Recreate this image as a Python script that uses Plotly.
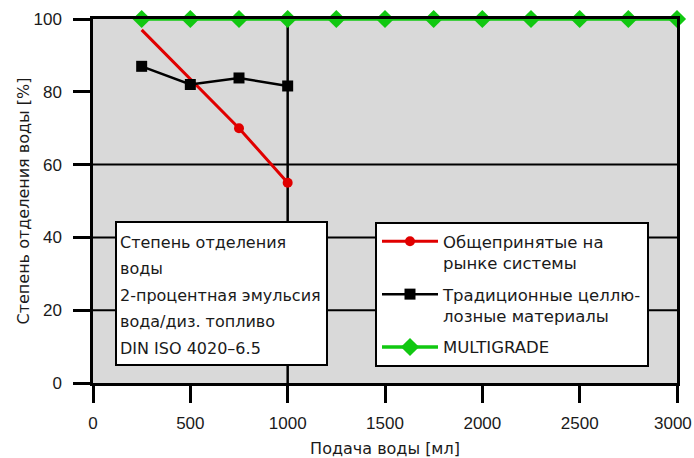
import plotly.graph_objects as go

# ---- data ----
x_common = [250, 500, 750, 1000]
y_conventional = [97, 83.5, 70, 55]
y_cellulose = [87, 82, 83.8, 81.6]
x_multigrade = [250, 500, 750, 1000, 1250, 1500, 1750, 2000, 2250, 2500, 2750, 3000]
y_multigrade = [100, 100, 100, 100, 100, 100, 100, 100, 100, 100, 100, 100]

name_conventional = "Общепринятые на<br>рынке системы"
name_cellulose = "Традиционные целлю-<br>лозные материалы"
name_multigrade = "MULTIGRADE"

x_ticks = [0, 500, 1000, 1500, 2000, 2500, 3000]
x_tick_labels = ["0", "500", "1000", "1500", "2000", "2500", "3000"]
y_ticks = [0, 20, 40, 60, 80, 100]
hgrid_values = [20, 40, 60]
vgrid_values = [1000]

box_lines = [
    "Степень отделения",
    "воды",
    "2-процентная эмульсия",
    "вода/диз. топливо",
    "DIN ISO 4020–6.5",
]

x_title = "Подача воды [мл]"
y_title = "Степень отделения воды [%]"

# ---- layout helpers ----
W, H = 694, 458
ML, MR, MT, MB = 93, 17, 19, 75
PW, PH = W - ML - MR, H - MT - MB


def px_x(px):
    return (px - ML) / PW


def px_y(py):
    return (H - MB - py) / PH


FONT = "DejaVu Sans, Liberation Sans, Arial, sans-serif"
TICKFONT = "Liberation Sans, Arial, Helvetica, sans-serif"
TXT = "#1a1a1a"
RED = "#e00000"
GREEN = "#11c811"

fig = go.Figure()

fig.add_trace(go.Scatter(
    x=x_common, y=y_conventional, name=name_conventional, mode="lines+markers",
    line=dict(color=RED, width=3),
    marker=dict(symbol="circle", size=10, color=RED),
    selectedpoints=[2, 3],
    selected=dict(marker=dict(opacity=1)),
    unselected=dict(marker=dict(opacity=0)),
    legendgroup="a",
))
fig.add_trace(go.Scatter(
    x=x_common, y=y_cellulose, name=name_cellulose, mode="lines+markers",
    line=dict(color="black", width=2.5),
    marker=dict(symbol="square", size=11, color="black"),
    legendgroup="b",
))
fig.add_trace(go.Scatter(
    x=x_multigrade, y=y_multigrade, name=name_multigrade, mode="lines+markers",
    line=dict(color=GREEN, width=3.5),
    marker=dict(symbol="diamond", size=14, color=GREEN),
    cliponaxis=False,
    legendgroup="c",
))

shapes = []
for v in hgrid_values:
    shapes.append(dict(type="line", xref="paper", yref="y", x0=0, x1=1, y0=v, y1=v,
                       line=dict(color="black", width=2), layer="below"))
for v in vgrid_values:
    shapes.append(dict(type="line", xref="x", yref="paper", x0=v, x1=v, y0=0, y1=1,
                       line=dict(color="black", width=2.5), layer="below"))
# info box
shapes.append(dict(type="rect", xref="paper", yref="paper",
                   x0=px_x(116), x1=px_x(327), y0=px_y(365), y1=px_y(222),
                   fillcolor="white", line=dict(color="black", width=2), layer="above"))

annotations = []
line_y_px = [242, 268.5, 295, 321.5, 348]
for txt, ypx in zip(box_lines, line_y_px):
    annotations.append(dict(text=txt, xref="paper", yref="paper", x=px_x(118), y=px_y(ypx),
                            xanchor="left", yanchor="middle", showarrow=False,
                            font=dict(family=FONT, size=16, color=TXT)))

# last x tick label: drawn as annotation nudged left so it stays inside the page
annotations.append(dict(text=x_tick_labels[-1], xref="x", yref="paper", x=x_ticks[-1], y=0,
                        xanchor="right", yanchor="middle", xshift=16, yshift=-40,
                        showarrow=False, borderpad=0,
                        font=dict(family=TICKFONT, size=17, color=TXT)))

fig.update_layout(
    width=W, height=H,
    margin=dict(l=ML, r=MR, t=MT, b=MB, autoexpand=False),
    paper_bgcolor="white", plot_bgcolor="#d9d9d9",
    font=dict(family=FONT, size=16, color=TXT),
    shapes=shapes, annotations=annotations,
    legend=dict(
        x=px_x(375), y=px_y(222), xanchor="left", yanchor="top",
        bgcolor="white", bordercolor="black", borderwidth=2,
        font=dict(family=FONT, size=16.5, color=TXT),
        itemwidth=56, valign="top", tracegroupgap=7, traceorder="grouped",
    ),
    showlegend=True,
)

fig.update_xaxes(
    range=[0, 3000], tickvals=x_ticks, ticktext=x_tick_labels[:-1] + [""],
    showgrid=False, zeroline=False, automargin=False,
    showline=True, linecolor="black", linewidth=2.5, mirror=True,
    ticks="outside", ticklen=17, tickwidth=3, tickcolor="black",
    tickfont=dict(family=TICKFONT, size=17, color=TXT), ticklabelstandoff=6,
    title=dict(text=x_title, font=dict(family=FONT, size=16, color=TXT), standoff=12),
)
fig.update_yaxes(
    range=[0, 100], tickvals=y_ticks, ticktext=[str(v) for v in y_ticks],
    showgrid=False, zeroline=False, automargin=False,
    showline=True, linecolor="black", linewidth=2.5, mirror=True,
    ticks="outside", ticklen=17, tickwidth=3, tickcolor="black",
    tickfont=dict(family=TICKFONT, size=17, color=TXT), ticklabelstandoff=8,
    title=dict(text=y_title, font=dict(family=FONT, size=16, color=TXT), standoff=0),
)

fig.write_html("out.html", post_script="document.body.style.margin='0';",
               config={"displayModeBar": False})
